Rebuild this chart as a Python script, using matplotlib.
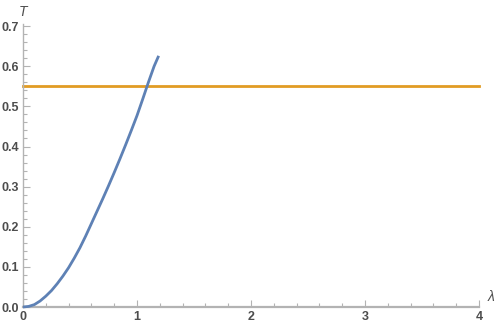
import numpy as np
import matplotlib
matplotlib.use("Agg")
import matplotlib.pyplot as plt
from matplotlib.ticker import MultipleLocator

# curve T(lambda)
lam = [0.0, 0.05, 0.1, 0.15, 0.2, 0.25, 0.3, 0.35, 0.4, 0.45, 0.5, 0.55, 0.6,
       0.65, 0.7, 0.75, 0.8, 0.85, 0.9, 0.95, 1.0, 1.05, 1.1, 1.15, 1.19]
T = [0.0, 0.0015, 0.006, 0.015, 0.027, 0.041, 0.058, 0.077, 0.098, 0.122, 0.148,
     0.177, 0.208, 0.239, 0.270, 0.302, 0.335, 0.369, 0.404, 0.440, 0.477,
     0.518, 0.560, 0.600, 0.626]

# horizontal level
T_level = 0.55
lam_range = [0, 4]

x_ticks = [0, 1, 2, 3, 4]
y_ticks = [0.0, 0.1, 0.2, 0.3, 0.4, 0.5, 0.6, 0.7]

axis_gray = "#b3b3b3"
label_gray = "#4d4d4d"

fig = plt.figure(figsize=(5, 3.32), dpi=100)
ax = fig.add_axes([0.046, 0.0753, 0.912, 0.852])

ax.plot(lam_range, [T_level, T_level], color="#e19c24", lw=2.0, clip_on=False, zorder=2)
ax.plot(lam, T, color="#5e81b5", lw=2.0, clip_on=False, zorder=3,
        solid_capstyle="butt", solid_joinstyle="round")

ax.set_xlim(0, 4)
ax.set_ylim(0, 0.705)

for s in ["top", "right"]:
    ax.spines[s].set_visible(False)
for s in ["left", "bottom"]:
    ax.spines[s].set_color(axis_gray)
    ax.spines[s].set_linewidth(1.0)
ax.spines["bottom"].set_linewidth(1.6)

ax.set_xticks(x_ticks)
ax.set_xticklabels([str(v) for v in x_ticks])
ax.set_yticks(y_ticks)
ax.set_yticklabels([f"{v:.1f}" for v in y_ticks])
ax.xaxis.set_minor_locator(MultipleLocator(0.2))
ax.yaxis.set_minor_locator(MultipleLocator(0.02))

ax.tick_params(which="both", direction="in", color=axis_gray, width=0.8)
ax.tick_params(which="major", length=5, labelsize=9, labelcolor=label_gray, pad=3)
ax.tick_params(which="minor", length=3)
for lab in ax.get_xticklabels() + ax.get_yticklabels():
    lab.set_fontweight("bold")
    lab.set_family("Liberation Sans")

ax.text(4.08, 0.025, "λ", fontsize=10, style="italic", color=label_gray,
        ha="left", va="center", family="Liberation Sans")
ax.text(0.0, 0.735, "T", fontsize=10, style="italic", color=label_gray,
        ha="center", va="center", family="Liberation Sans")

fig.savefig("out.png", dpi=100)
